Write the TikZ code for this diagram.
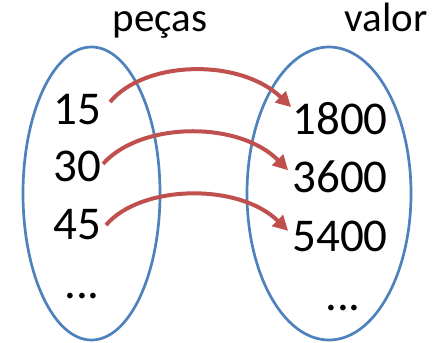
\documentclass[tikz,border=0pt]{standalone}
\usepackage{fontspec}
\setmainfont{Carlito}
\usetikzlibrary{shapes.geometric,arrows.meta}
\definecolor{setblue}{HTML}{4F81BD}
\definecolor{maparrow}{HTML}{C0504D}
\tikzset{
  setoval/.style={ellipse, draw=setblue, line width=2.7pt, inner sep=0pt},
  numtxt/.style={anchor=base, inner sep=0pt, font=\fontsize{47}{50}\selectfont},
  labtxt/.style={anchor=base, inner sep=0pt, font=\fontsize{41}{44}\selectfont},
  maparr/.style={draw=maparrow, line width=4pt, -{Triangle[length=15pt,width=15pt]}}
}
\begin{document}
\begin{tikzpicture}[x=1pt,y=1pt]
\useasboundingbox (0,0) rectangle (443,342);
\node[setoval, minimum width=137pt, minimum height=293pt] (A) at (91.5,148.5) {};
\node[setoval, minimum width=164pt, minimum height=293pt] (B) at (329,148.5) {};
\node[labtxt] (la) at (160,310) {peças};
\node[labtxt] (lb) at (386,310) {valor};
\node[numtxt] (a1) at (77,217) {15};
\node[numtxt] (a2) at (77,160) {30};
\node[numtxt] (a3) at (77,102) {45};
\node[numtxt] (a4) at (82,44) {...};
\node[numtxt] (b1) at (340,207) {1800};
\node[numtxt] (b2) at (340,149) {3600};
\node[numtxt] (b3) at (340,90) {5400};
\node[numtxt] (b4) at (343,32) {...};
\draw[maparr] ([xshift=9pt,yshift=8pt]a1.east) .. controls (145,282) and (240,284) .. ([xshift=-1pt,yshift=12pt]b1.west);
\draw[maparr] ([xshift=2pt,yshift=3pt]a2.east) .. controls (140,220) and (238,222) .. ([xshift=-4pt,yshift=7pt]b2.west);
\draw[maparr] ([xshift=5pt,yshift=0pt]a3.east) .. controls (140,157) and (238,160) .. ([xshift=-4pt,yshift=6pt]b3.west);
\end{tikzpicture}
\end{document}
